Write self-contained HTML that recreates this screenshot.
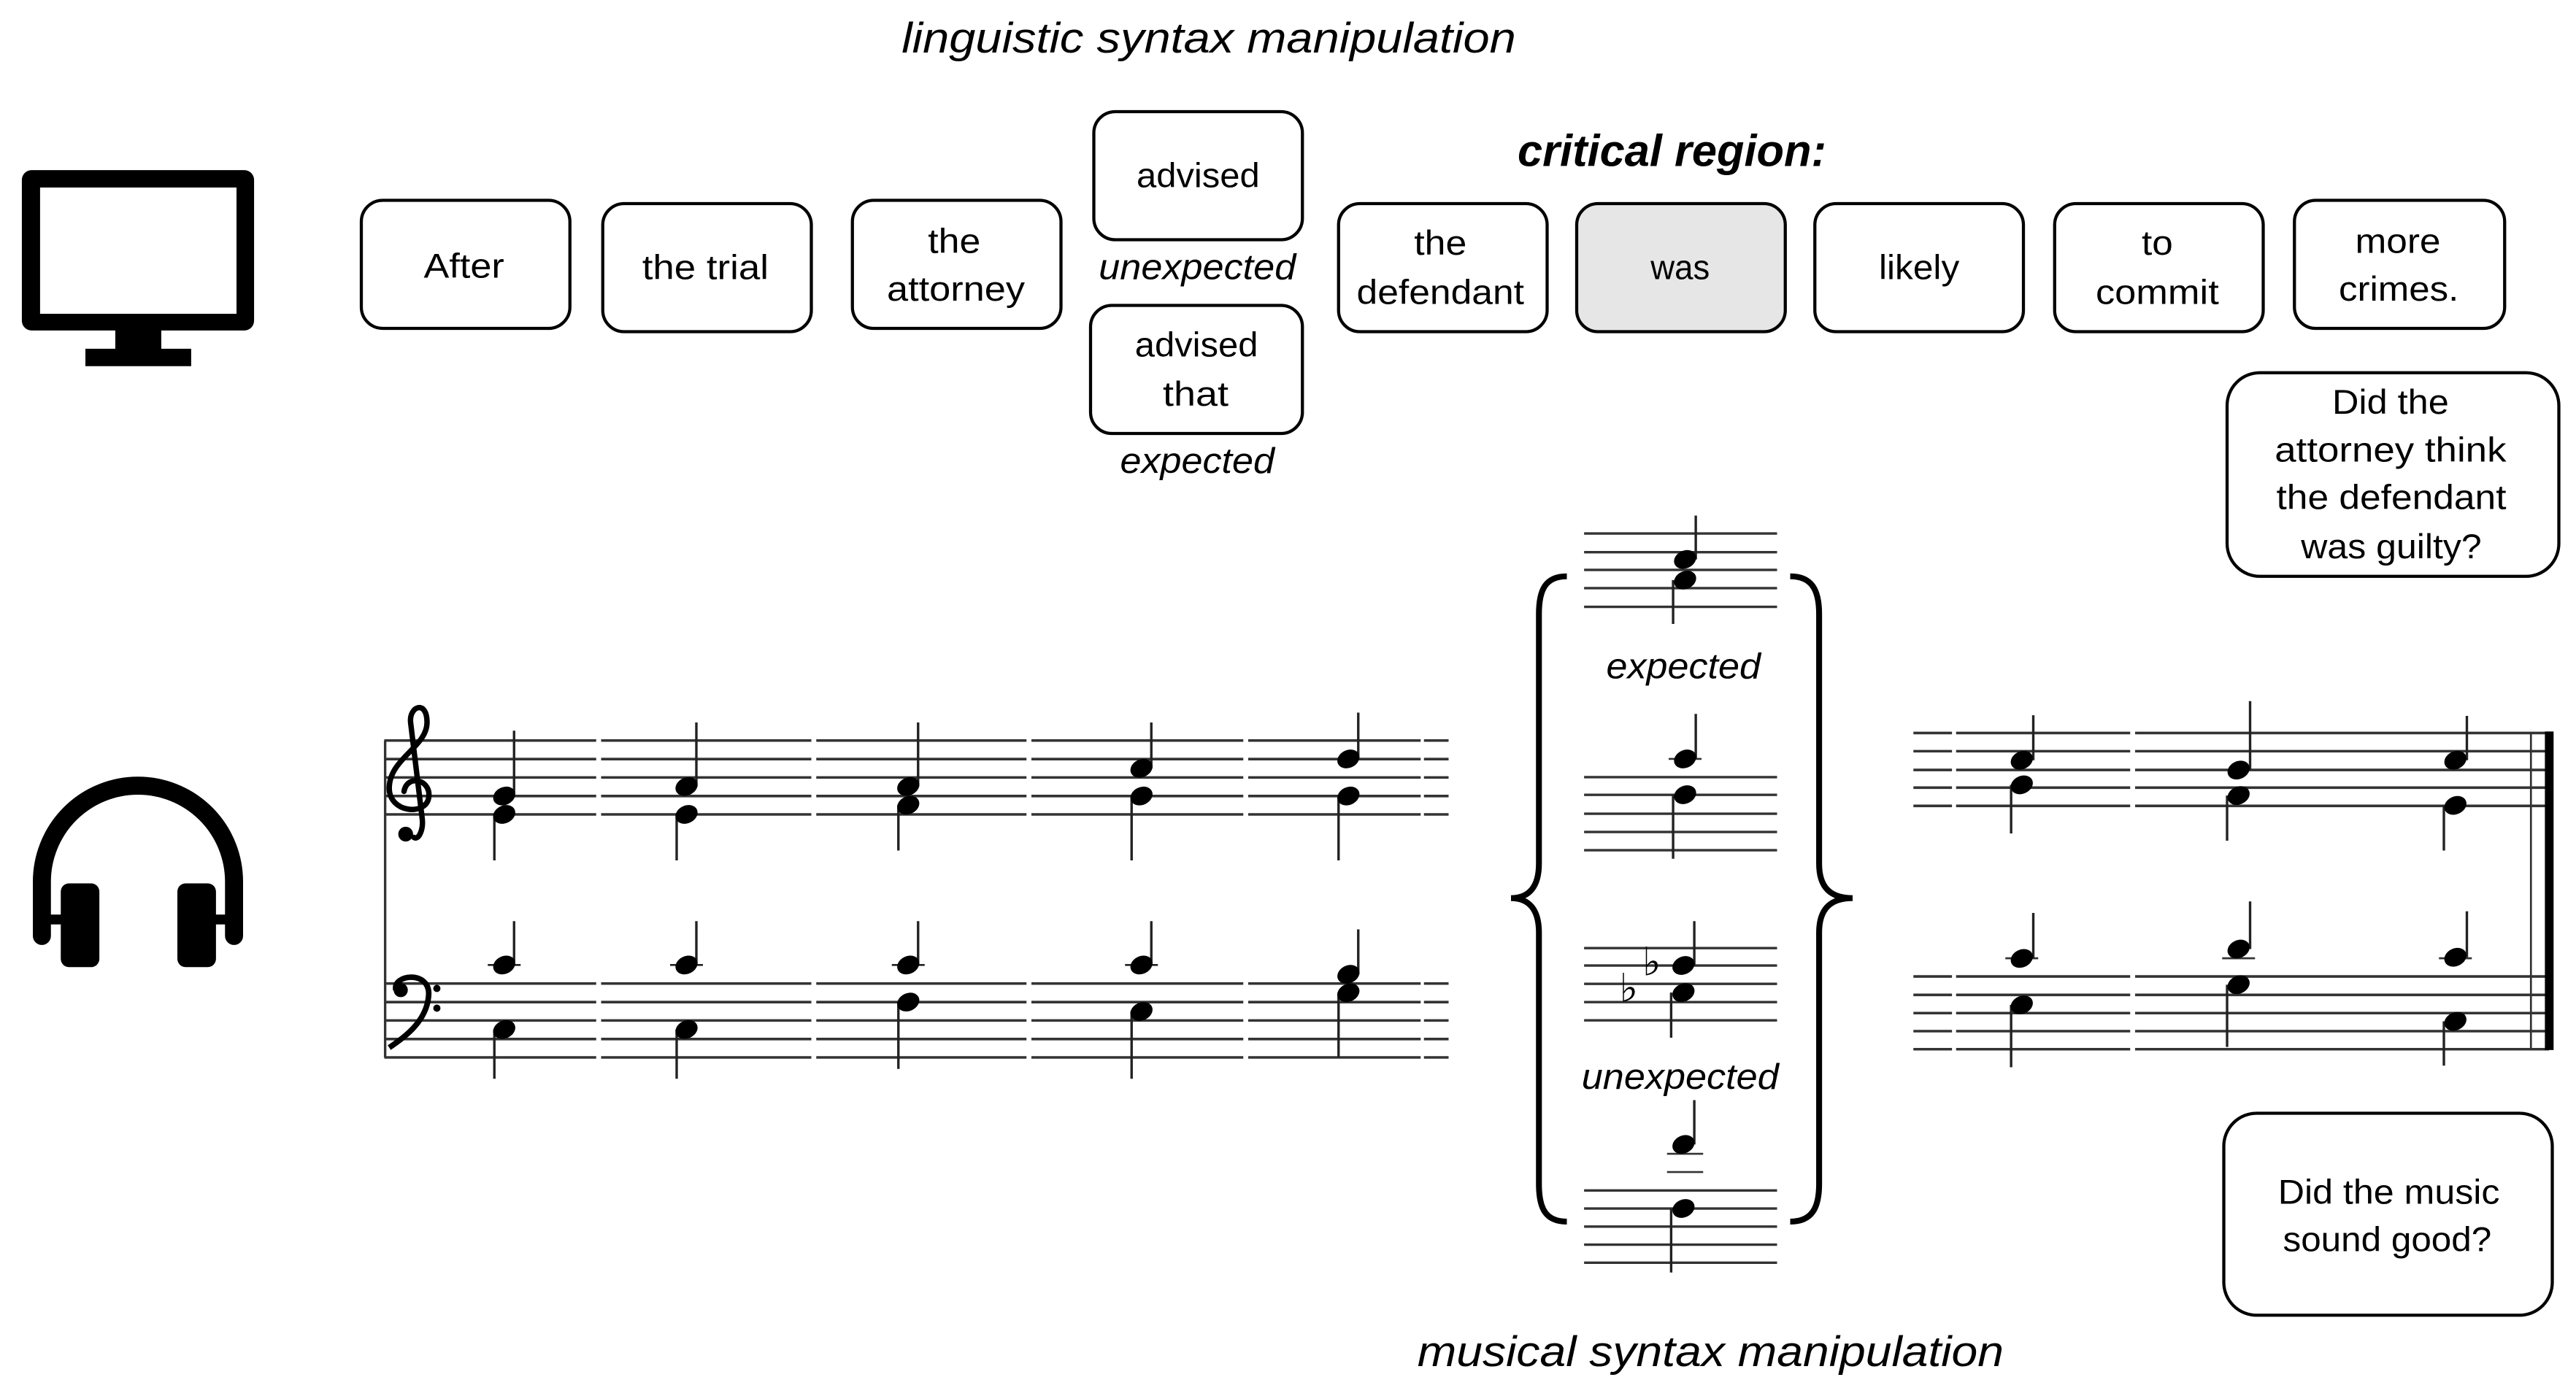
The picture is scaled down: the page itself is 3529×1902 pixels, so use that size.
<!DOCTYPE html>
<html><head><meta charset="utf-8"><style>
html,body{margin:0;padding:0;background:#fff;}
svg{display:block;}
text{font-family:"Liberation Sans",sans-serif;fill:#000;}
</style></head><body>
<svg width="3529" height="1902" viewBox="0 0 1568.44 845.33" xmlns="http://www.w3.org/2000/svg">
<rect width="1568.44" height="845.33" fill="#fff"/>

<text x="549" y="32" font-size="26" font-style="italic" textLength="374" lengthAdjust="spacingAndGlyphs">linguistic syntax manipulation</text>
<text x="924" y="101" font-size="27" font-style="italic" font-weight="bold" textLength="188" lengthAdjust="spacingAndGlyphs">critical region:</text>
<text x="863" y="832" font-size="26" font-style="italic" textLength="357" lengthAdjust="spacingAndGlyphs">musical syntax manipulation</text>

<rect x="13.3" y="103.6" width="141.4" height="97.7" rx="6" fill="#000"/>
<rect x="24.4" y="114.2" width="119.6" height="76.9" fill="#fff"/>
<rect x="70.2" y="200" width="28" height="13" fill="#000"/>
<rect x="52" y="212.4" width="64.4" height="10.6" fill="#000"/>

<path d="M25.5 570 L25.5 537 A58.5 58.5 0 0 1 142.5 537 L142.5 570" fill="none" stroke="#000" stroke-width="11" stroke-linecap="round"/>
<rect x="25" y="557" width="15" height="6" fill="#000"/>
<rect x="128" y="557" width="15" height="6" fill="#000"/>
<rect x="37" y="538" width="23.5" height="51" rx="5" fill="#000"/>
<rect x="108" y="538" width="23.5" height="51" rx="5" fill="#000"/>

<g fill="#fff" stroke="#000" stroke-width="1.9">
<rect x="220" y="122" width="127" height="78" rx="13"/>
<rect x="367" y="124" width="127" height="78" rx="13"/>
<rect x="519" y="122" width="127" height="78" rx="13"/>
<rect x="666" y="68" width="127" height="78" rx="13"/>
<rect x="664" y="186" width="129" height="78" rx="13"/>
<rect x="815" y="124" width="127" height="78" rx="13"/>
<rect x="960" y="124" width="127" height="78" rx="13" fill="#e6e6e6"/>
<rect x="1105" y="124" width="127" height="78" rx="13"/>
<rect x="1251" y="124" width="127" height="78" rx="13"/>
<rect x="1397" y="122" width="128" height="78" rx="13"/>
<rect x="1356" y="227" width="202" height="124" rx="20"/>
<rect x="1354" y="678" width="200" height="123" rx="20"/>
</g>
<g font-size="21">
<text x="258" y="169" textLength="49" lengthAdjust="spacingAndGlyphs">After</text>
<text x="391" y="170" textLength="77" lengthAdjust="spacingAndGlyphs">the trial</text>
<text x="565" y="154" textLength="32" lengthAdjust="spacingAndGlyphs">the</text>
<text x="540" y="183" textLength="84" lengthAdjust="spacingAndGlyphs">attorney</text>
<text x="692" y="114" textLength="75" lengthAdjust="spacingAndGlyphs">advised</text>
<text x="691" y="217" textLength="75" lengthAdjust="spacingAndGlyphs">advised</text>
<text x="708" y="247" textLength="40" lengthAdjust="spacingAndGlyphs">that</text>
<text x="861" y="155" textLength="32" lengthAdjust="spacingAndGlyphs">the</text>
<text x="826" y="185" textLength="102" lengthAdjust="spacingAndGlyphs">defendant</text>
<text x="1005" y="170" textLength="36" lengthAdjust="spacingAndGlyphs">was</text>
<text x="1144" y="170" textLength="49" lengthAdjust="spacingAndGlyphs">likely</text>
<text x="1304" y="155" textLength="19" lengthAdjust="spacingAndGlyphs">to</text>
<text x="1276" y="185" textLength="75" lengthAdjust="spacingAndGlyphs">commit</text>
<text x="1434" y="154" textLength="52" lengthAdjust="spacingAndGlyphs">more</text>
<text x="1424" y="183" textLength="73" lengthAdjust="spacingAndGlyphs">crimes.</text>
<text x="1420" y="252" textLength="71" lengthAdjust="spacingAndGlyphs">Did the</text>
<text x="1385" y="281" textLength="141" lengthAdjust="spacingAndGlyphs">attorney think</text>
<text x="1386" y="310" textLength="140" lengthAdjust="spacingAndGlyphs">the defendant</text>
<text x="1401" y="340" textLength="110" lengthAdjust="spacingAndGlyphs">was guilty?</text>
<text x="1387" y="733" textLength="135" lengthAdjust="spacingAndGlyphs">Did the music</text>
<text x="1390" y="762" textLength="127" lengthAdjust="spacingAndGlyphs">sound good?</text>
</g>
<g font-size="22" font-style="italic">
<text x="669" y="170" textLength="120" lengthAdjust="spacingAndGlyphs">unexpected</text>
<text x="682" y="288" textLength="94" lengthAdjust="spacingAndGlyphs">expected</text>
<text x="978" y="413" textLength="94" lengthAdjust="spacingAndGlyphs">expected</text>
<text x="963" y="663" textLength="120" lengthAdjust="spacingAndGlyphs">unexpected</text>
</g>

<g stroke="#333" stroke-width="1.6">
<path d="M234 451H363M366 451H494M497 451H625M628 451H757M760 451H865M867 451H882
M234 462.3H363M366 462.3H494M497 462.3H625M628 462.3H757M760 462.3H865M867 462.3H882
M234 473.5H363M366 473.5H494M497 473.5H625M628 473.5H757M760 473.5H865M867 473.5H882
M234 484.8H363M366 484.8H494M497 484.8H625M628 484.8H757M760 484.8H865M867 484.8H882
M234 496H363M366 496H494M497 496H625M628 496H757M760 496H865M867 496H882
M234 599H363M366 599H494M497 599H625M628 599H757M760 599H865M867 599H882
M234 610.3H363M366 610.3H494M497 610.3H625M628 610.3H757M760 610.3H865M867 610.3H882
M234 621.5H363M366 621.5H494M497 621.5H625M628 621.5H757M760 621.5H865M867 621.5H882
M234 632.8H363M366 632.8H494M497 632.8H625M628 632.8H757M760 632.8H865M867 632.8H882
M234 644H363M366 644H494M497 644H625M628 644H757M760 644H865M867 644H882"/>
<path d="M234.5 451V644" stroke-width="1.5"/>
</g>
<g fill="none" stroke="#000" stroke-linecap="round">
<path d="M252 510 C255 512 258 505 257 498 L250 440 C249 430 260 426 260 440 C260 455 237 462 237 480 C237 495 259 497 261 486 C263 475 248 471 246 482" stroke-width="3.3"/>
</g>
<circle cx="247" cy="508" r="4.5" fill="#000"/>
<path d="M241 603 C239 593 262 591 261 606 C260 622 246 632 237 638" fill="none" stroke="#000" stroke-width="3.4"/>
<circle cx="244" cy="603" r="4.3" fill="#000"/>
<circle cx="266" cy="602" r="2.2" fill="#000"/>
<circle cx="266" cy="614" r="2.2" fill="#000"/>

<g stroke="#222" stroke-width="1.5">
<path d="M313 484.8V445 M301 496V524 M424 479V440 M412 496V524 M559 479V440 M547 490.4V518 M701 467.9V440 M689 484.8V524 M827 462.2V434 M815 484.8V524"/>
<path d="M313 587.7V561 M301 627V657 M424 587.7V561 M412 627V657 M559 587.7V561 M547 610.3V651 M701 587.7V561 M689 616V657 M827 593.4V566 M815 604.6V644"/>
<path d="M297 587.7H317 M408 587.7H428 M543 587.7H563 M685 587.7H705" stroke-width="1.2"/>
</g>
<g fill="#000">
<ellipse cx="307" cy="484.8" rx="7" ry="5.4" transform="rotate(-25 307 484.8)"/>
<ellipse cx="307" cy="496" rx="7" ry="5.4" transform="rotate(-25 307 496)"/>
<ellipse cx="418" cy="479" rx="7" ry="5.4" transform="rotate(-25 418 479)"/>
<ellipse cx="418" cy="496" rx="7" ry="5.4" transform="rotate(-25 418 496)"/>
<ellipse cx="553" cy="479" rx="7" ry="5.4" transform="rotate(-25 553 479)"/>
<ellipse cx="553" cy="490.4" rx="7" ry="5.4" transform="rotate(-25 553 490.4)"/>
<ellipse cx="695" cy="467.9" rx="7" ry="5.4" transform="rotate(-25 695 467.9)"/>
<ellipse cx="695" cy="484.8" rx="7" ry="5.4" transform="rotate(-25 695 484.8)"/>
<ellipse cx="821" cy="462.2" rx="7" ry="5.4" transform="rotate(-25 821 462.2)"/>
<ellipse cx="821" cy="484.8" rx="7" ry="5.4" transform="rotate(-25 821 484.8)"/>
<ellipse cx="307" cy="587.7" rx="7" ry="5.4" transform="rotate(-25 307 587.7)"/>
<ellipse cx="307" cy="627" rx="7" ry="5.4" transform="rotate(-25 307 627)"/>
<ellipse cx="418" cy="587.7" rx="7" ry="5.4" transform="rotate(-25 418 587.7)"/>
<ellipse cx="418" cy="627" rx="7" ry="5.4" transform="rotate(-25 418 627)"/>
<ellipse cx="553" cy="587.7" rx="7" ry="5.4" transform="rotate(-25 553 587.7)"/>
<ellipse cx="553" cy="610.3" rx="7" ry="5.4" transform="rotate(-25 553 610.3)"/>
<ellipse cx="695" cy="587.7" rx="7" ry="5.4" transform="rotate(-25 695 587.7)"/>
<ellipse cx="695" cy="616" rx="7" ry="5.4" transform="rotate(-25 695 616)"/>
<ellipse cx="821" cy="593.4" rx="7" ry="5.4" transform="rotate(-25 821 593.4)"/>
<ellipse cx="821" cy="604.6" rx="7" ry="5.4" transform="rotate(-25 821 604.6)"/>
</g>

<g stroke="#333" stroke-width="1.5">
<path d="M964.5 324.9H1082M964.5 336.3H1082M964.5 347.1H1082M964.5 358.2H1082M964.5 369.6H1082"/>
<path d="M964.5 473.3H1082M964.5 484.1H1082M964.5 495.6H1082M964.5 506.7H1082M964.5 517.8H1082"/>
<path d="M964.5 577.4H1082M964.5 588H1082M964.5 599.2H1082M964.5 610.3H1082M964.5 621.4H1082"/>
<path d="M964.5 725H1082M964.5 736H1082M964.5 747H1082M964.5 758H1082M964.5 769H1082"/>
<path d="M1015 702.7H1037M1015 713.8H1037M1016 462.2H1036" stroke-width="1.2"/>
</g>
<g stroke="#222" stroke-width="1.5">
<path d="M1032.5 340.7V314 M1018.7 353.3V380"/>
<path d="M1032.5 462.2V434.8 M1018.7 484V523"/>
<path d="M1031.6 588V561 M1017.5 604.5V632"/>
<path d="M1031.6 697V670 M1017.5 736V775"/>
</g>
<g fill="#000">
<ellipse cx="1026" cy="340.7" rx="7" ry="5.4" transform="rotate(-25 1026 340.7)"/>
<ellipse cx="1026" cy="353.3" rx="7" ry="5.4" transform="rotate(-25 1026 353.3)"/>
<ellipse cx="1026" cy="462.2" rx="7" ry="5.4" transform="rotate(-25 1026 462.2)"/>
<ellipse cx="1026" cy="484" rx="7" ry="5.4" transform="rotate(-25 1026 484)"/>
<ellipse cx="1025" cy="588" rx="7" ry="5.4" transform="rotate(-25 1025 588)"/>
<ellipse cx="1025" cy="604.5" rx="7" ry="5.4" transform="rotate(-25 1025 604.5)"/>
<ellipse cx="1025" cy="697" rx="7" ry="5.4" transform="rotate(-25 1025 697)"/>
<ellipse cx="1025" cy="736" rx="7" ry="5.4" transform="rotate(-25 1025 736)"/>
</g>
<text x="1000" y="594" font-size="24" font-family="DejaVu Sans, sans-serif">♭</text>
<text x="986" y="610" font-size="24" font-family="DejaVu Sans, sans-serif">♭</text>
<g fill="none" stroke="#000" stroke-width="3.6">
<path d="M954 351 C941 351 937 359 937 374 L937 526 C937 540 931 547 920 547 C931 547 937 554 937 568 L937 721 C937 736 941 744 954 744"/>
<path d="M1090 351 C1103 351 1107.6 359 1107.6 374 L1107.6 526 C1107.6 540 1114 547 1128 547 C1114 547 1107.6 554 1107.6 568 L1107.6 721 C1107.6 736 1103 744 1090 744"/>
</g>

<g stroke="#333" stroke-width="1.6">
<path d="M1165 446.4H1188.5M1191 446.4H1297M1300 446.4H1552
M1165 457.5H1188.5M1191 457.5H1297M1300 457.5H1552
M1165 468.9H1188.5M1191 468.9H1297M1300 468.9H1552
M1165 479.7H1188.5M1191 479.7H1297M1300 479.7H1552
M1165 490.8H1188.5M1191 490.8H1297M1300 490.8H1552
M1165 594.7H1188.5M1191 594.7H1297M1300 594.7H1552
M1165 605.9H1188.5M1191 605.9H1297M1300 605.9H1552
M1165 617H1188.5M1191 617H1297M1300 617H1552
M1165 628H1188.5M1191 628H1297M1300 628H1552
M1165 639H1188.5M1191 639H1297M1300 639H1552"/>
<path d="M1541 446.4V639" stroke-width="1.2"/>
<path d="M1221 583.6H1241M1353 583.6H1373M1485 583.6H1505" stroke-width="1.2"/>
</g>
<rect x="1549.5" y="445.5" width="5.3" height="194" fill="#000"/>
<g stroke="#222" stroke-width="1.5">
<path d="M1238 463V435.6 M1224.5 478V507.6 M1370 469V427 M1356 484.5V512 M1502 463V436 M1488 490.5V518"/>
<path d="M1238 583.7V556 M1224.5 612V650 M1370 578V549 M1356 599.7V637.6 M1502 583V555 M1488 622V649"/>
</g>
<g fill="#000">
<ellipse cx="1231" cy="463" rx="7" ry="5.4" transform="rotate(-25 1231 463)"/>
<ellipse cx="1231" cy="478" rx="7" ry="5.4" transform="rotate(-25 1231 478)"/>
<ellipse cx="1363" cy="469" rx="7" ry="5.4" transform="rotate(-25 1363 469)"/>
<ellipse cx="1363" cy="484.5" rx="7" ry="5.4" transform="rotate(-25 1363 484.5)"/>
<ellipse cx="1495" cy="463" rx="7" ry="5.4" transform="rotate(-25 1495 463)"/>
<ellipse cx="1495" cy="490.5" rx="7" ry="5.4" transform="rotate(-25 1495 490.5)"/>
<ellipse cx="1231" cy="583.7" rx="7" ry="5.4" transform="rotate(-25 1231 583.7)"/>
<ellipse cx="1231" cy="612" rx="7" ry="5.4" transform="rotate(-25 1231 612)"/>
<ellipse cx="1363" cy="578" rx="7" ry="5.4" transform="rotate(-25 1363 578)"/>
<ellipse cx="1363" cy="599.7" rx="7" ry="5.4" transform="rotate(-25 1363 599.7)"/>
<ellipse cx="1495" cy="583" rx="7" ry="5.4" transform="rotate(-25 1495 583)"/>
<ellipse cx="1495" cy="622" rx="7" ry="5.4" transform="rotate(-25 1495 622)"/>
</g>
</svg>
</body></html>
